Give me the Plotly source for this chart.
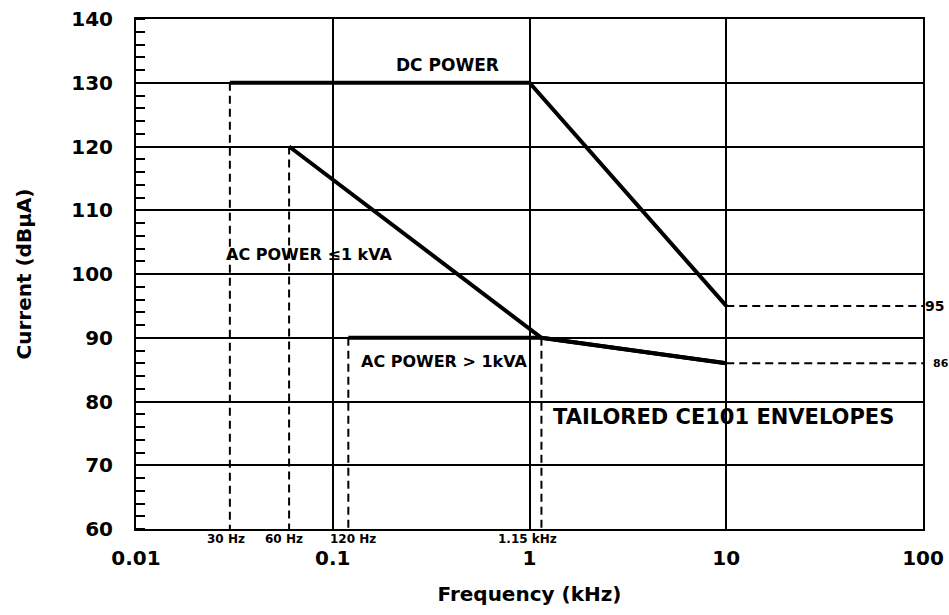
import math
import plotly.graph_objects as go

# envelope data (frequency in kHz, level in dBuA)
dc_freq = [0.03, 1, 10]
dc_level = [130, 130, 95]
ac_small_freq = [0.06, 1.15, 10]
ac_small_level = [120, 90, 86]
ac_large_freq = [0.12, 1.15, 10]
ac_large_level = [90, 90, 86]

# dashed drop lines: (frequency, top level)
drop_freq = [0.03, 0.06, 0.12, 1.15]
drop_top = [130, 120, 90, 90]
drop_labels = ["30 Hz", "60 Hz", "120 Hz", "1.15 kHz"]

# dashed extensions past 10 kHz
ext_level = [95, 86]
ext_freq = [10, 100]

x_ticks = [0.01, 0.1, 1, 10, 100]
x_ticktext = ["0.01", "0.1", "1", "10", "100"]
y_ticks = [60, 70, 80, 90, 100, 110, 120, 130, 140]

FONT = "DejaVu Sans, Arial, sans-serif"
BOLD = dict(family=FONT, color="black", weight="bold")

fig = go.Figure()

for fx, lv in [(dc_freq, dc_level), (ac_small_freq, ac_small_level),
               (ac_large_freq, ac_large_level)]:
    fig.add_trace(go.Scatter(x=fx, y=lv, mode="lines",
                             line=dict(color="black", width=4),
                             showlegend=False, hoverinfo="skip"))

for f, top in zip(drop_freq, drop_top):
    fig.add_trace(go.Scatter(x=[f, f], y=[top, 60], mode="lines",
                             line=dict(color="black", width=2, dash="8px,5px"),
                             showlegend=False, hoverinfo="skip"))

for lv in ext_level:
    fig.add_trace(go.Scatter(x=ext_freq, y=[lv, lv], mode="lines",
                             line=dict(color="black", width=2, dash="8px,5px"),
                             showlegend=False, hoverinfo="skip"))

# text inside the plot
fig.add_annotation(x=-0.419, y=132.8, text="DC POWER", showarrow=False,
                   font=dict(size=17, **BOLD))
fig.add_annotation(x=-1.118, y=103.0, text="AC POWER \u22641 kVA", showarrow=False,
                   font=dict(size=16, **BOLD))
fig.add_annotation(x=-0.43, y=86.35, text="AC POWER > 1kVA", showarrow=False,
                   font=dict(size=16, **BOLD))
fig.add_annotation(x=0.988, y=77.5, text="TAILORED CE101 ENVELOPES", showarrow=False,
                   font=dict(size=21, **BOLD))

label_shift = [-4, -5, 5, -14]
for f, lab, dx in zip(drop_freq, drop_labels, label_shift):
    fig.add_annotation(x=math.log10(f), y=60, text=lab,
                       showarrow=False, yanchor="top", yshift=-1, xshift=dx,
                       font=dict(size=12, **BOLD))

# level labels to the right of the frame
fig.add_annotation(x=1, xref="paper", y=ext_level[0], text=str(ext_level[0]),
                   showarrow=False, xanchor="left", xshift=0,
                   font=dict(size=14, **BOLD))
fig.add_annotation(x=1, xref="paper", y=ext_level[1], text=str(ext_level[1]),
                   showarrow=False, xanchor="left", xshift=8,
                   font=dict(size=11, **BOLD))

fig.update_xaxes(type="log", range=[-2, 2], tickvals=x_ticks, ticktext=x_ticktext,
                 showgrid=True, gridcolor="black", gridwidth=2,
                 showline=True, linecolor="black", linewidth=2, mirror=True,
                 ticks="", ticklabelstandoff=10, automargin=False,
                 ticklabeloverflow="allow",
                 tickfont=dict(size=20, **BOLD),
                 title=dict(text="Frequency (kHz)", standoff=18,
                            font=dict(size=20, **BOLD)),
                 zeroline=False)
fig.update_yaxes(range=[60, 140], tickvals=y_ticks,
                 showgrid=True, gridcolor="black", gridwidth=2,
                 showline=True, linecolor="black", linewidth=2, mirror=True,
                 ticks="", ticklabelstandoff=17, automargin=False,
                 ticklabeloverflow="allow",
                 minor=dict(dtick=2, ticks="inside", ticklen=9,
                            tickcolor="black", tickwidth=1.5, showgrid=False),
                 tickfont=dict(size=20, **BOLD),
                 title=dict(text="Current (dB\u03bcA)", standoff=34,
                            font=dict(size=20, **BOLD)),
                 zeroline=False)

fig.update_layout(width=949, height=615,
                  margin=dict(l=136, r=26, t=19, b=86),
                  plot_bgcolor="white", paper_bgcolor="white",
                  font=dict(family=FONT, color="black"))

# drop the default page margin so the figure fills the window exactly
fig.write_html("out.html",
               config={"displayModeBar": False},
               post_script="document.body.style.margin='0';"
                           "document.body.style.overflow='hidden';")
